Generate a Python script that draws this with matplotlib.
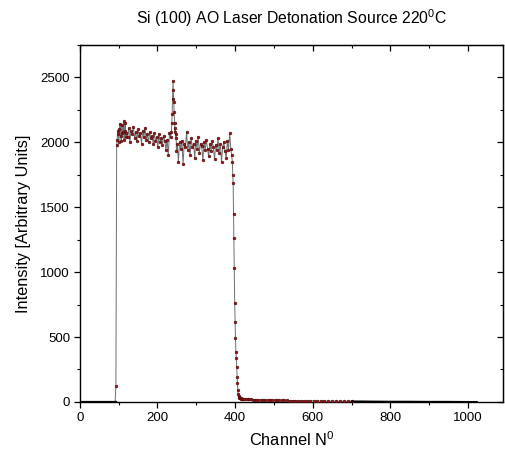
import matplotlib
matplotlib.use("Agg")
import matplotlib.pyplot as plt
from matplotlib.ticker import MultipleLocator

plt.rcParams['font.family'] = ['Liberation Sans', 'DejaVu Sans']
plt.rcParams['mathtext.fontset'] = 'custom'
plt.rcParams['mathtext.rm'] = 'Liberation Sans'
plt.rcParams['mathtext.it'] = 'Liberation Sans'

# ---- data ----
base_ch = [0, 30, 60, 91]
base_val = [0, 0, 0, 0]

step_ch = [93, 95]
step_val = [120, 1980]

plat1_ch = [96, 98, 99, 101, 102, 104, 105, 107, 108, 110, 111, 113, 114, 116, 117, 119, 120,
            123, 126, 129, 132, 135, 138, 141,
            144, 147, 150, 153, 156, 159, 162, 165, 168, 171, 174, 177, 180, 183, 186, 189,
            192, 195, 198, 201, 204, 207, 210, 213, 216, 219, 222, 225, 228, 231, 234]
plat1_val = [2020, 2090, 2060, 2000, 2100, 2140, 2050, 2010, 2130, 2070, 2080, 2160, 2020, 2090,
             2150, 2040, 2070, 2040, 2110, 2000, 2090, 2060,
             2120, 2030, 2080, 2010, 2100, 2050, 2070, 1990, 2090, 2040, 2110, 2020, 2060, 2000,
             2080, 2030, 2050, 1990, 2070, 2010, 2040, 1960, 2060, 2000, 2030, 1980, 2050, 2010,
             1940, 2020, 1900, 2070, 2040]

peak_ch = [236, 237, 238, 239, 240, 241, 242, 243, 244, 245, 246, 247, 248, 249]
peak_val = [2080, 2150, 2220, 2330, 2470, 2400, 2310, 2230, 2150, 2080, 2110, 2030, 2060, 1930]

plat2_ch = [251, 254, 257, 260, 263, 266, 269, 272, 275, 278, 281, 284, 287, 290, 293, 296,
            299, 302, 305, 308, 311, 314, 317, 320, 323, 326, 329, 332, 335, 338, 341, 344,
            347, 350, 353, 356, 359, 362, 365, 368, 371, 374, 377, 380, 383, 386, 389, 391, 393]
plat2_val = [1990, 1850, 2000, 1950, 2010, 1830, 1990, 1960, 2080, 1940, 2000, 1900, 2030, 1960,
             1990, 1880, 2010, 1950, 2040, 1920, 1990, 1970, 1860, 2000, 1940, 2020, 1950, 1890,
             1990, 1930, 2010, 1960, 1870, 1980, 1940, 2030, 1920, 1990, 1850, 1960, 2000, 1930,
             1880, 2010, 1940, 2070, 1950, 1900, 1850]

drop_ch = [394, 395, 396, 397, 398, 399, 400, 401, 402, 403, 404, 405, 406, 407, 408, 409, 410,
           411, 412, 414, 416, 418, 420]
drop_val = [1750, 1685, 1450, 1260, 1030, 760, 615, 490, 385, 340, 270, 190, 145, 92, 60, 48, 40,
            34, 30, 27, 25, 23, 22]

tail_ch = [424, 428, 432, 436, 440, 445, 450, 455, 460, 466, 472, 478, 484, 490, 496, 502, 508,
           514, 520, 527, 534, 541, 548, 555, 562, 570, 578, 586, 594, 602, 610, 620, 630, 640,
           650, 660, 670, 680, 690, 700]
tail_val = [21, 20, 20, 19, 19, 18, 18, 17, 17, 16, 16, 15, 15, 15, 14, 14, 13, 13, 13, 12, 12,
            11, 11, 11, 10, 10, 10, 9, 9, 9, 8, 8, 8, 7, 7, 7, 6, 6, 6, 5]

end_ch = [750, 800, 850, 900, 950, 1000, 1023]
end_val = [4, 3, 3, 2, 2, 1, 1]

marked_ch = step_ch + plat1_ch + peak_ch + plat2_ch + drop_ch + tail_ch
marked_val = step_val + plat1_val + peak_val + plat2_val + drop_val + tail_val

title = "Si (100) AO Laser Detonation Source 220$^{0}$C"
xlabel = "Channel N$^{0}$"
ylabel = "Intensity [Arbitrary Units]"

# ---- figure ----
fig = plt.figure(figsize=(5.05, 4.62), dpi=100)
ax = fig.add_axes([0.158, 0.130, 0.838, 0.773])

ax.plot(base_ch + marked_ch + end_ch, base_val + marked_val + end_val,
        color='#707070', lw=0.7, zorder=2)
ax.plot(marked_ch, marked_val, ls='none', marker='o', ms=2.0, mfc='#9e1414',
        mec='#3a0808', mew=0.35, zorder=3)
ax.plot(base_ch + [92], base_val + [0], color='black', lw=1.6, zorder=4)
ax.plot([700] + end_ch, [5] + end_val, color='black', lw=1.2, zorder=4)

ax.set_xlim(0, 1090)
ax.set_ylim(0, 2750)

ax.xaxis.set_major_locator(MultipleLocator(200))
ax.xaxis.set_minor_locator(MultipleLocator(100))
ax.yaxis.set_major_locator(MultipleLocator(500))
ax.yaxis.set_minor_locator(MultipleLocator(250))

ax.tick_params(which='major', direction='out', length=4, width=0.9, labelsize=9.5, pad=3)
ax.tick_params(which='minor', direction='out', length=2.5, width=0.8)

sec_x = ax.secondary_xaxis('top')
sec_x.xaxis.set_major_locator(MultipleLocator(200))
sec_x.xaxis.set_minor_locator(MultipleLocator(100))
sec_x.tick_params(which='major', direction='in', length=4, width=0.9)
sec_x.tick_params(which='minor', direction='in', length=2.5, width=0.8)
sec_x.set_xticklabels([])

sec_y = ax.secondary_yaxis('right')
sec_y.yaxis.set_major_locator(MultipleLocator(500))
sec_y.yaxis.set_minor_locator(MultipleLocator(250))
sec_y.tick_params(which='major', direction='in', length=4, width=0.9)
sec_y.tick_params(which='minor', direction='in', length=2.5, width=0.8)
sec_y.set_yticklabels([])

for s in ax.spines.values():
    s.set_linewidth(1.0)

ax.set_title(title, fontsize=11.3, pad=15)
ax.set_xlabel(xlabel, fontsize=11.8, labelpad=5)
ax.set_ylabel(ylabel, fontsize=11.8, labelpad=7)

fig.savefig("out.png", dpi=100)
